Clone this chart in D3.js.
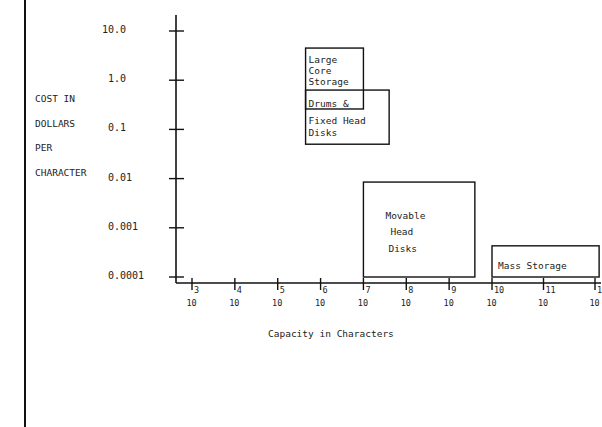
<!DOCTYPE html>
<html>
<head>
<meta charset="utf-8">
<script src="https://cdn.jsdelivr.net/npm/d3@7"></script>
<style>
body { margin: 0; background: #fff; }
text { font-family: "DejaVu Sans Mono", monospace; fill: #222; }
</style>
</head>
<body>
<div id="workspace"></div>
<script>
// data
var xExponents = [3, 4, 5, 6, 7, 8, 9, 10, 11, 12];
var yTicks = [10, 1, 0.1, 0.01, 0.001, 0.0001];
var yTickLabels = ["10.0", "1.0", "0.1", "0.01", "0.001", "0.0001"];
var yTitle = ["COST IN", "DOLLARS", "PER", "CHARACTER"];
var xTitle = "Capacity in Characters";

var storeNames = ["Large Core Storage", "Drums & Fixed Head Disks", "Movable Head Disks", "Mass Storage"];
var capMin = [Math.pow(10, 5.65), Math.pow(10, 5.65), 1e7, 1e10];
var capMax = [1e7, Math.pow(10, 7.6), Math.pow(10, 9.6), Math.pow(10, 12.08)];
var costMin = [0.26, 0.05, 0.0001, 0.0001];
var costMax = [4.5, 0.63, 0.0085, 0.00043];
var storeLines = [["Large", "Core", "Storage"], ["Drums &", "Fixed Head", "Disks"], ["Movable", "Head", "Disks"], ["Mass Storage"]];

var svg = d3.select("#workspace")
	.append("svg")
	.attr("width", 602)
	.attr("height", 427);

// scales (decade spacing on the original plot is a bit uneven)
var xs = d3.scaleLinear().domain([3, 10, 12]).range([192, 492, 595]);
var x = function(v) { return xs(Math.log10(v)); };
var y = d3.scaleLog().domain([0.0001, 10]).range([277, 31]);

var axisY = 283, axisX = 176;

// left border line
svg.append("line")
	.attr("x1", 25).attr("x2", 25)
	.attr("y1", 0).attr("y2", 427)
	.attr("stroke", "#111").attr("stroke-width", 2);

// axes
svg.append("line")
	.attr("x1", axisX).attr("x2", axisX)
	.attr("y1", 15).attr("y2", axisY)
	.attr("stroke", "#111").attr("stroke-width", 1.6);
svg.append("line")
	.attr("x1", axisX).attr("x2", 601)
	.attr("y1", axisY).attr("y2", axisY)
	.attr("stroke", "#111").attr("stroke-width", 1.6);

// y ticks
svg.selectAll(".ytick").data(yTicks).enter().append("line")
	.attr("x1", axisX - 7).attr("x2", axisX + 8)
	.attr("y1", function(d) { return y(d); })
	.attr("y2", function(d) { return y(d); })
	.attr("stroke", "#111").attr("stroke-width", 1.4);
svg.selectAll(".ylab").data(yTickLabels).enter().append("text")
	.attr("x", function(d) { return 114 - d.split(".")[0].length * 6; })
	.attr("y", function(d, i) { return y(yTicks[i]) + 2; })
	.attr("font-size", "10px")
	.attr("fill", "#444")
	.text(function(d) { return d; });

// x ticks
svg.selectAll(".xtick").data(xExponents).enter().append("line")
	.attr("x1", function(d) { return xs(d); })
	.attr("x2", function(d) { return xs(d); })
	.attr("y1", axisY - 5).attr("y2", axisY + 7)
	.attr("stroke", "#111").attr("stroke-width", 1.4);
svg.selectAll(".xbase").data(xExponents).enter().append("text")
	.attr("x", function(d) { return xs(d) - 0.5; })
	.attr("y", 306)
	.attr("font-size", "8.5px")
	.attr("text-anchor", "middle")
	.text("10");
svg.selectAll(".xexp").data(xExponents).enter().append("text")
	.attr("x", function(d) { return xs(d) + 2; })
	.attr("y", 293)
	.attr("font-size", "8.5px")
	.text(function(d) { return d; });

// titles
svg.selectAll(".ytitle").data(yTitle).enter().append("text")
	.attr("x", 35)
	.attr("y", function(d, i) { return 102 + i * 24.7; })
	.attr("font-size", "9.5px")
	.text(function(d) { return d; });
svg.append("text")
	.attr("x", 268).attr("y", 337)
	.attr("font-size", "9.5px")
	.text(xTitle);

// storage boxes
var boxes = svg.selectAll(".box").data(storeNames).enter().append("g");
boxes.append("rect")
	.attr("x", function(d, i) { return x(capMin[i]); })
	.attr("y", function(d, i) { return y(costMax[i]); })
	.attr("width", function(d, i) { return x(capMax[i]) - x(capMin[i]); })
	.attr("height", function(d, i) { return y(costMin[i]) - y(costMax[i]); })
	.attr("fill", "none")
	.attr("stroke", "#111").attr("stroke-width", 1.4);

// label placement inside each box: offsets from the box's top-left corner
var labelDx = [[3, 3, 3], [3, 3, 3], [22, 27, 25], [6]];
var labelDy = [[15, 26, 37], [17, 34, 46], [37, 53, 70], [23]];
boxes.each(function(d, i) {
	var g = d3.select(this);
	var x0 = x(capMin[i]);
	var y0 = y(costMax[i]);
	storeLines[i].forEach(function(t, j) {
		g.append("text")
			.attr("x", x0 + labelDx[i][j])
			.attr("y", y0 + labelDy[i][j])
			.attr("font-size", "9.5px")
			.text(t);
	});
});
</script>
</body>
</html>
